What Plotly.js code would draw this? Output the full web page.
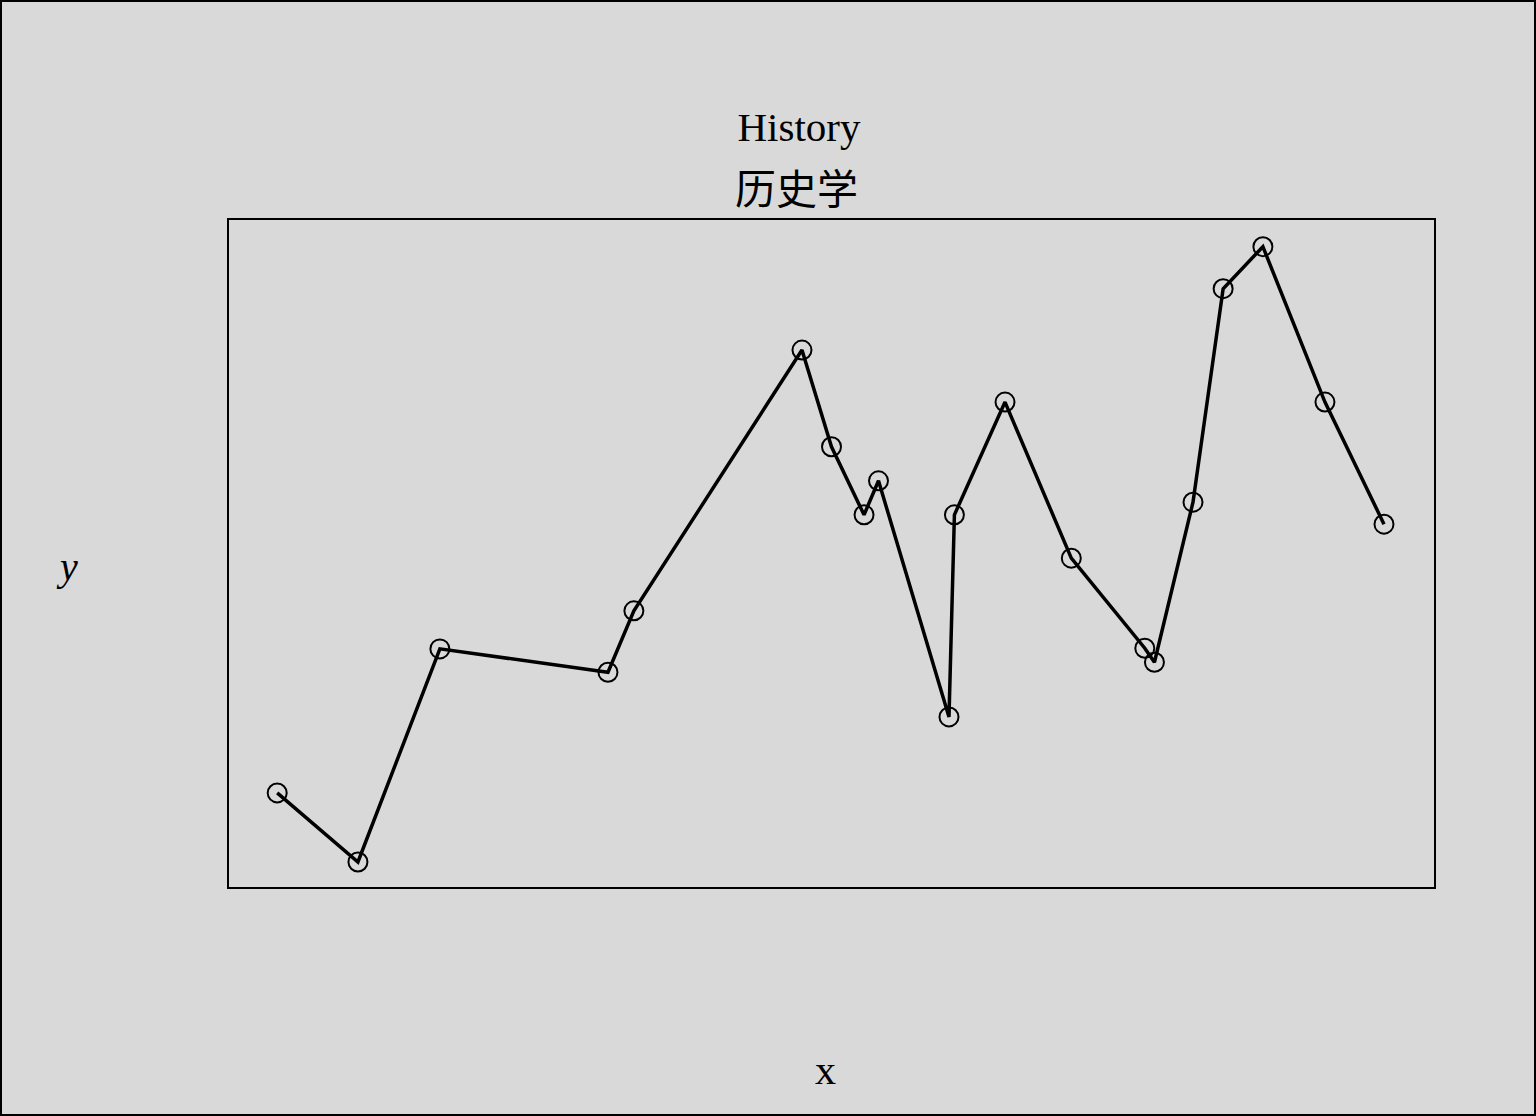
<!DOCTYPE html>
<html>
<head>
<meta charset="utf-8">
<script src="https://cdn.plot.ly/plotly-3.0.1.min.js"></script>
<style>
html,body{margin:0;padding:0;background:#d9d9d9;}
#wrap{position:relative;width:1536px;height:1116px;}
#chart{width:1536px;height:1116px;}
#frame{position:absolute;left:0;top:0;width:1536px;height:1116px;box-sizing:border-box;border:2px solid #000;pointer-events:none;}
</style>
</head>
<body>
<div id="wrap"><div id="chart"></div><div id="frame"></div></div>
<script>
const xValues = [4.0, 10.7, 17.5, 31.45, 33.6, 47.55, 50.0, 52.7, 53.9, 59.75, 60.2, 64.4, 69.9, 76.0, 76.8, 80.0, 82.5, 85.8, 90.95, 95.85];
const yValues = [14.1, 3.75, 35.7, 32.2, 41.4, 80.5, 66.0, 55.8, 60.9, 25.5, 55.8, 72.7, 49.3, 35.8, 33.7, 57.7, 89.7, 96.0, 72.7, 54.4];
const titleLine1 = "History";
const titleLine2 = "历史学";
const xLabel = "x";
const yLabel = "y";

const serif = "Liberation Serif, 'Times New Roman', 'Noto Sans CJK SC', serif";

const trace = {
  x: xValues,
  y: yValues,
  type: "scatter",
  mode: "lines+markers",
  line: {color: "#000", width: 3.5},
  marker: {symbol: "circle-open", size: 19, color: "#000", line: {color: "#000", width: 2}},
  hoverinfo: "skip"
};

const axisCommon = {
  range: [0, 100],
  showgrid: false,
  zeroline: false,
  showticklabels: false,
  ticks: "",
  showline: true,
  mirror: true,
  linecolor: "#000",
  linewidth: 2,
  fixedrange: true
};

const layout = {
  width: 1536,
  height: 1116,
  margin: {l: 229, r: 102, t: 220, b: 229, pad: 0},
  paper_bgcolor: "#d9d9d9",
  plot_bgcolor: "#d9d9d9",
  showlegend: false,
  font: {family: serif, color: "#000"},
  title: {
    text: titleLine1,
    font: {family: serif, size: 41, color: "#000"},
    xref: "container", x: 799/1536, xanchor: "center",
    yref: "container", y: 1 - 141/1116, yanchor: "bottom"
  },
  xaxis: Object.assign({}, axisCommon),
  yaxis: Object.assign({}, axisCommon),
  annotations: [
    {text: titleLine2, xref: "paper", yref: "paper", x: (796-229)/1205, y: (887-190)/667,
     xanchor: "center", yanchor: "middle", showarrow: false, font: {family: serif, size: 41, color: "#000"}},
    {text: "<i>" + yLabel + "</i>", xref: "paper", yref: "paper", x: (67-229)/1205, y: (887-566)/667,
     xanchor: "center", yanchor: "middle", showarrow: false, font: {family: serif, size: 40, color: "#000"}},
    {text: xLabel, xref: "paper", yref: "paper", x: (825-229)/1205, y: (887-1070)/667,
     xanchor: "center", yanchor: "middle", showarrow: false, font: {family: serif, size: 42, color: "#000"}}
  ]
};

Plotly.newPlot("chart", [trace], layout, {displayModeBar: false, staticPlot: true});
</script>
</body>
</html>
